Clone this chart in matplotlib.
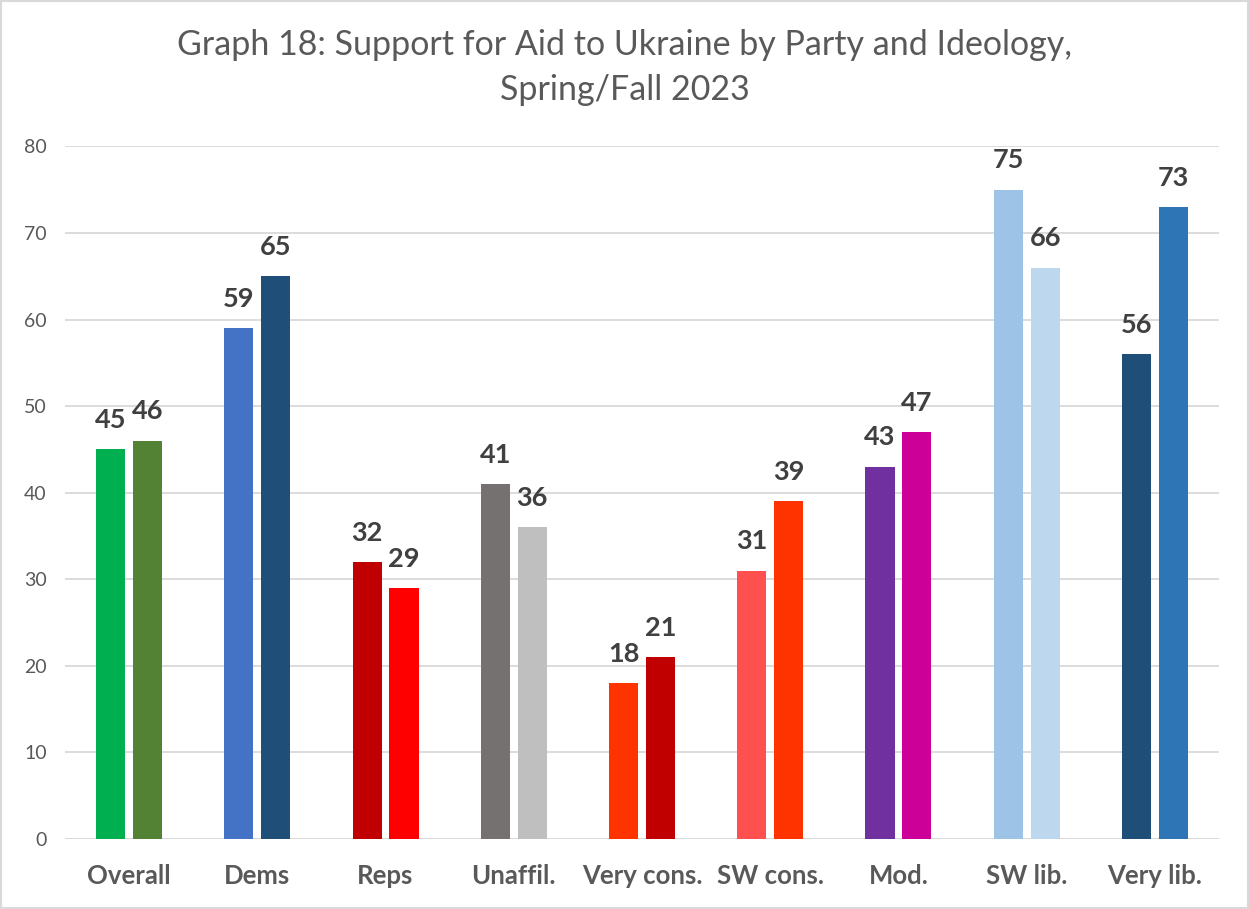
import numpy as np
import matplotlib
matplotlib.use('Agg')
import matplotlib.pyplot as plt
from matplotlib.patches import Rectangle

plt.rcParams['font.family'] = ['Lato', 'DejaVu Sans']

groups = ['Overall', 'Dems', 'Reps', 'Unaffil.', 'Very cons.', 'SW cons.', 'Mod.', 'SW lib.', 'Very lib.']
spring = [45, 59, 32, 41, 18, 31, 43, 75, 56]
fall = [46, 65, 29, 36, 21, 39, 47, 66, 73]
spring_colors = ['#00B050', '#4472C4', '#C00000', '#767171', '#FF3300', '#FF5050', '#7030A0', '#9DC3E6', '#1F4E79']
fall_colors = ['#548235', '#1F4E79', '#FF0000', '#BFBFBF', '#C00000', '#FF3300', '#CC0099', '#BDD7EE', '#2E75B6']

grey = '#595959'
fig = plt.figure(figsize=(12.49, 9.09), dpi=100)
ax = fig.add_axes([0.052, 0.077, 0.924, 0.762])

x = np.arange(len(groups))
w = 0.227
off = 0.144
b1 = ax.bar(x - off, spring, w, color=spring_colors, zorder=3)
b2 = ax.bar(x + off, fall, w, color=fall_colors, zorder=3)

for bars, vals in ((b1, spring), (b2, fall)):
    for r, v in zip(bars, vals):
        ax.text(r.get_x() + r.get_width() / 2, v + 2.0, str(v), ha='center', va='bottom',
                fontsize=19.5, fontweight='bold', color='#404040')

ax.set_xlim(-0.5, len(groups) - 0.5)
ax.set_ylim(0, 80)
ax.set_yticks(range(0, 81, 10))
ax.set_xticks(x)
ax.set_xticklabels(groups, fontsize=18.5, fontweight='bold', color=grey)
ax.tick_params(axis='y', labelsize=14, colors=grey, length=0, pad=13)
ax.tick_params(axis='x', length=0, pad=18)
ax.grid(axis='y', color='#D9D9D9', linewidth=1.3, zorder=0)
for s in ax.spines.values():
    s.set_visible(False)
ax.axhline(0, color='#D9D9D9', linewidth=1.3, zorder=2)

fig.text(0.5, 0.968, 'Graph 18: Support for Aid to Ukraine by Party and Ideology,\nSpring/Fall 2023',
         ha='center', va='top', fontsize=24.5, color=grey, linespacing=1.5)

fig.patches.append(Rectangle((0.001, 0.001), 0.998, 0.998, transform=fig.transFigure,
                             fill=False, edgecolor='#D9D9D9', linewidth=1.5))

fig.savefig('out.png', dpi=100)
